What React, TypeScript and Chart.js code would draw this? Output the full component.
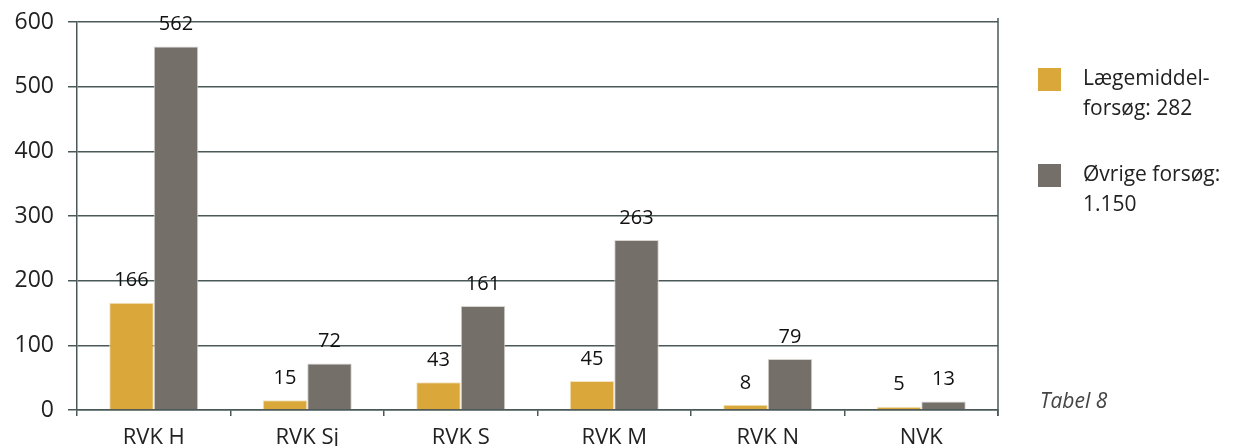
import React, { useEffect, useRef } from "react";
import { Chart, registerables } from "chart.js";

Chart.register(...registerables);

const categories = ["RVK H", "RVK Sj", "RVK S", "RVK M", "RVK N", "NVK"];
const laegemiddel = [166, 15, 43, 45, 8, 5];
const oevrige = [562, 72, 161, 263, 79, 13];
const legendLaegemiddel = ["Lægemiddel-", "forsøg: 282"];
const legendOevrige = ["Øvrige forsøg:", "1.150"];
const tableLabel = "Tabel 8";

const YELLOW = "#D9A73A";
const GREY = "#756F6A";
const GRID = "#4A5858";
const FONT = "'Open Sans', 'Noto Sans', sans-serif";

export default function App() {
  const ref = useRef<HTMLCanvasElement | null>(null);
  useEffect(() => {
    document.body.style.margin = "0";
    if (!ref.current) return;

    const labelsPlugin = {
      id: "barLabels",
      afterDatasetsDraw(chart: any) {
        const ctx = chart.ctx;
        ctx.save();
        ctx.fillStyle = "#111";
        ctx.font = `500 20px ${FONT}`;
        ctx.textAlign = "center";
        ctx.textBaseline = "middle";
        chart.data.datasets.forEach((ds: any, di: number) => {
          const meta = chart.getDatasetMeta(di);
          meta.data.forEach((bar: any, i: number) => {
            ctx.fillText(String(ds.data[i]), bar.x, bar.y - 22);
          });
        });
        ctx.restore();
      },
    };

    const decorPlugin = {
      id: "decor",
      afterDraw(chart: any) {
        const ctx = chart.ctx;
        const a = chart.chartArea;
        ctx.save();
        ctx.strokeStyle = GRID;
        ctx.lineWidth = 1.5;
        ctx.beginPath();
        ctx.moveTo(a.right, a.top - 4);
        ctx.lineTo(a.right, a.bottom + 6);
        ctx.stroke();

        const x0 = a.right + 40;
        const drawItem = (color: string, lines: string[], y: number) => {
          ctx.fillStyle = color;
          ctx.fillRect(x0, y, 23, 23);
          ctx.fillStyle = "#222";
          ctx.font = `500 21px ${FONT}`;
          ctx.textAlign = "left";
          ctx.textBaseline = "middle";
          lines.forEach((l, k) => ctx.fillText(l, x0 + 45, y + 11 + k * 30));
        };
        drawItem(YELLOW, legendLaegemiddel, 68);
        drawItem(GREY, legendOevrige, 164);

        ctx.fillStyle = "#444";
        ctx.font = `italic 21px ${FONT}`;
        ctx.textAlign = "left";
        ctx.textBaseline = "middle";
        ctx.fillText(tableLabel, x0 + 2, a.bottom - 8);
        ctx.restore();
      },
    };

    const chart = new Chart(ref.current, {
      type: "bar",
      data: {
        labels: categories,
        datasets: [
          { label: "Lægemiddelforsøg", data: laegemiddel, backgroundColor: YELLOW, borderColor: "#f3e3c0", borderWidth: 1 },
          { label: "Øvrige forsøg", data: oevrige, backgroundColor: GREY, borderColor: "#d8d4d0", borderWidth: 1 },
        ],
      },
      options: {
        animation: false,
        responsive: false,
        maintainAspectRatio: false,
        layout: { padding: { top: 22, right: 235, left: 0, bottom: 0 } },
        plugins: { legend: { display: false }, tooltip: { enabled: false } },
        datasets: { bar: { categoryPercentage: 0.58, barPercentage: 1 } },
        scales: {
          x: {
            grid: { display: true, drawOnChartArea: false, offset: true, color: GRID, lineWidth: 1.5, tickLength: 6 },
            border: { display: true, color: GRID, width: 1.5 },
            ticks: { color: "#222", font: { family: FONT, size: 22 }, padding: 9 },
            afterFit(scale: any) {
              scale.height = 36;
              scale.paddingLeft = 0;
              scale.paddingRight = 0;
            },
          },
          y: {
            min: 0,
            max: 600,
            ticks: { stepSize: 100, color: "#222", font: { family: FONT, size: 23 }, padding: 14 },
            grid: { color: GRID, lineWidth: 1.5, tickLength: 9 },
            border: { display: true, color: GRID, width: 1.5 },
            afterFit(scale: any) {
              scale.width = 77;
              scale.paddingTop = 0;
              scale.paddingBottom = 0;
            },
          },
        },
      },
      plugins: [labelsPlugin, decorPlugin],
    } as any);
    return () => chart.destroy();
  }, []);

  return (
    <div style={{ position: "absolute", left: 0, top: 0, width: 1233, height: 446, background: "#fff" }}>
      <canvas ref={ref} width={1233} height={446} style={{ width: 1233, height: 446 }} />
    </div>
  );
}
